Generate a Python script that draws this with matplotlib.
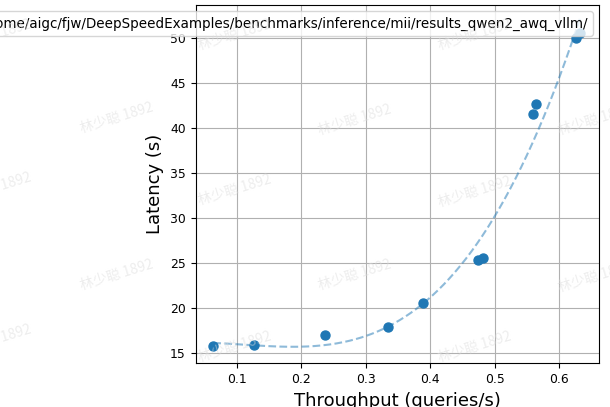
import numpy as np
import matplotlib
matplotlib.use("Agg")
import matplotlib.pyplot as plt

# throughput / latency measurements
throughput = [0.0632, 0.1264, 0.2366, 0.3350, 0.3893, 0.4747, 0.4825, 0.5600, 0.5638, 0.6264, 0.6326]
latency = [15.8, 15.9, 17.0, 17.9, 20.5, 25.3, 25.6, 41.5, 42.6, 49.95, 50.5]
result_dir = "/home/aigc/fjw/DeepSpeedExamples/benchmarks/inference/mii/results_qwen2_awq_vllm/"

fig = plt.figure(figsize=(6.1, 4.07), dpi=100)
ax = fig.add_axes([0.3205, 0.1074, 0.6615, 0.8803])

ax.scatter(throughput, latency, label=result_dir, color="tab:blue", s=42, zorder=3)

# polynomial trend line
coef = np.polyfit(throughput, latency, 3)
xs = np.linspace(min(throughput), max(throughput), 200)
ax.plot(xs, np.polyval(coef, xs), "--", color="tab:blue", alpha=0.5, linewidth=1.5)

ax.set_xlim(0.0356, 0.662)
ax.set_ylim(13.86, 53.63)
ax.set_xticks([0.1, 0.2, 0.3, 0.4, 0.5, 0.6])
ax.set_yticks([15, 20, 25, 30, 35, 40, 45, 50])
ax.tick_params(labelsize=8.9)
ax.set_xlabel("Throughput (queries/s)", fontsize=13)
ax.set_ylabel("Latency (s)", fontsize=13)
ax.grid(True)
ax.legend(loc="upper right", fontsize=9.75, borderaxespad=0.45)

# watermark tiles
marks = [(-5, 35), (235, 35), (475, 35), (117, 118), (355, 120), (595, 120),
         (-5, 188), (235, 190), (475, 192), (117, 275), (355, 275), (595, 277),
         (-5, 340), (235, 347), (475, 347)]
for mx, my in marks:
    fig.text(mx / 610, 1 - my / 407, "林少聪 1892", rotation=17, ha="center", va="center",
             fontsize=10, color="#dcdcdc", alpha=0.5, zorder=10,
             family=["Noto Sans CJK SC", "DejaVu Sans"])

fig.savefig("out.png", dpi=100)
